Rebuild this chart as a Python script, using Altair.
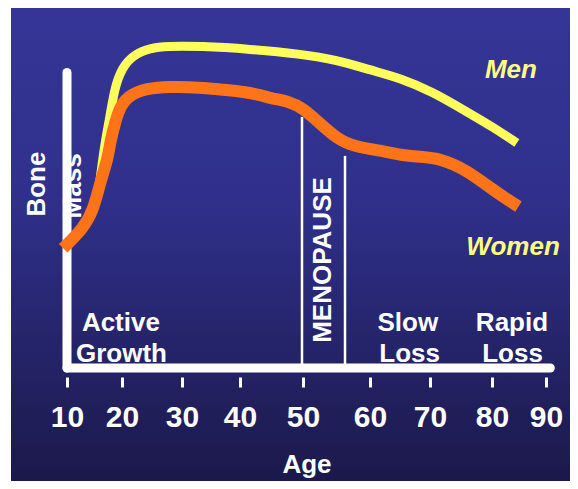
import altair as alt
import pandas as pd

FONT = "Liberation Sans"

# Age axis ticks (the slide spaces them unevenly)
tick_ages = [10, 20, 30, 40, 50, 60, 70, 80, 90]

# Bone mass curves (arbitrary units)
men_age = [16.0, 16.9, 17.8, 18.7, 20.0, 21.8, 24.7, 27.5, 33.1, 41.6, 49.5,
           55.1, 60.0, 65.0, 70.5, 76.0, 80.2, 84.6]
men_mass = [62.7, 75.0, 83.7, 93.7, 100.0, 104.3, 106.7, 107.3, 107.3, 106.3,
            104.7, 102.7, 99.3, 96.7, 92.0, 85.3, 80.3, 75.0]

women_age = [9.3, 13.0, 14.8, 16.0, 17.5, 17.8, 18.85, 19.8, 21.3, 24.1, 27.8,
             33.1, 41.6, 44.8, 47.9, 50.0, 52.5, 55.0, 57.5, 62.8, 65.0, 68.3,
             71.6, 75.9, 80.2, 84.9]
women_mass = [39.9, 46.6, 52.7, 61.6, 70.4, 74.9, 82.7, 87.7, 91.0, 93.2, 93.8,
              93.6, 92.0, 89.9, 88.8, 86.6, 81.6, 76.6, 73.8, 72.1, 71.0, 70.4,
              69.9, 66.0, 59.3, 53.8]

# Axis lines
axis_age = [10, 10]
axis_age2 = [90.8, 10]
axis_mass = [0, 0]
axis_mass2 = [0, 98.5]

# Menopause band borders
meno_age = [49.84, 56.27]
meno_top = [83.7, 70.7]
meno_bottom = [0, 0]

# Phase labels
phase_text = ["Active", "Growth", "Slow", "Loss", "Rapid", "Loss"]
phase_age = [19.8, 19.9, 66.3, 66.6, 83.7, 83.8]
phase_mass = [12.3, 2.0, 12.3, 2.0, 12.3, 2.0]

# Rotated labels
rot_text = ["MENOPAUSE", "Bone", "Mass"]
rot_age = [53.0, 4.55, 11.0]
rot_mass = [36.0, 61.3, 60.7]

# Series labels
series_text = ["Men", "Women"]
series_age = [83.5, 83.9]
series_mass = [96.7, 37.7]

VIEW_H = 473

xs = alt.Scale(domain=tick_ages, range=[56, 111, 171, 229, 292, 359, 419, 481, 535],
               zero=False, nice=False)
ys = alt.Scale(domain=[0, 100], range=[360, 60], zero=False, nice=False)

xaxis = alt.Axis(values=tick_ages, offset=-(VIEW_H - 369), domain=False, grid=False, zindex=2,
                 ticks=True, tickSize=10, tickWidth=3, tickColor="white",
                 labelColor="white", labelFont=FONT, labelFontSize=30,
                 labelFontWeight="bold", labelBaseline="alphabetic",
                 labelPadding=39, labelFlush=False, labelOverlap=False,
                 title="Age", titleColor="white", titleFont=FONT,
                 titleFontSize=26, titleFontWeight="bold",
                 titleBaseline="alphabetic", titleY=95)


def X():
    return alt.X("age:Q", scale=xs, axis=xaxis, title="Age")


def Y():
    return alt.Y("mass:Q", scale=ys, axis=None)


axis_df = pd.DataFrame({"age": axis_age, "age2": axis_age2, "mass": axis_mass, "mass2": axis_mass2})
meno_df = pd.DataFrame({"age": meno_age, "mass": meno_bottom, "mass2": meno_top})
men_df = pd.DataFrame({"age": men_age, "mass": men_mass})
women_df = pd.DataFrame({"age": women_age, "mass": women_mass})
phase_df = pd.DataFrame({"age": phase_age, "mass": phase_mass, "label": phase_text})
rot_df = pd.DataFrame({"age": rot_age, "mass": rot_mass, "label": rot_text})
series_df = pd.DataFrame({"age": series_age, "mass": series_mass, "label": series_text})

gradient = alt.LinearGradient(
    gradient="linear", x1=0, y1=0, x2=0, y2=1,
    stops=[
        alt.GradientStop(offset=0, color="#343596"),
        alt.GradientStop(offset=0.4, color="#30308c"),
        alt.GradientStop(offset=1, color="#1b194a"),
    ],
)

backdrop = alt.Chart(pd.DataFrame({"panel": [0]})).mark_rect(color=gradient).encode(
    x=alt.value(0), x2=alt.value("width"), y=alt.value(0), y2=alt.value("height"))

axis_lines = alt.Chart(axis_df).mark_rule(color="white", strokeWidth=9, strokeCap="round").encode(
    x=X(), x2="age2:Q", y=Y(), y2="mass2:Q")

meno_lines = alt.Chart(meno_df).mark_rule(color="white", strokeWidth=2.5).encode(
    x=X(), y=Y(), y2="mass2:Q")

men_line = alt.Chart(men_df).mark_line(color="#FFFF5C", strokeWidth=9, interpolate="basis",
                                       strokeCap="butt").encode(x=X(), y=Y())
women_line = alt.Chart(women_df).mark_line(color="#FF7418", strokeWidth=12, interpolate="basis",
                                           strokeCap="butt").encode(x=X(), y=Y())

phase_labels = alt.Chart(phase_df).mark_text(color="white", font=FONT, fontSize=26, fontWeight="bold",
                                             align="center", baseline="alphabetic").encode(
    x=X(), y=Y(), text="label:N")

rot_labels = alt.Chart(rot_df).mark_text(color="white", font=FONT, fontSize=26, fontWeight="bold",
                                         align="center", baseline="middle", angle=270).encode(
    x=X(), y=Y(), text="label:N")

series_labels = alt.Chart(series_df).mark_text(color="#FFFF80", font=FONT, fontSize=26, fontWeight="bold",
                                               fontStyle="italic", align="center",
                                               baseline="alphabetic").encode(
    x=X(), y=Y(), text="label:N")

chart = alt.layer(
    backdrop, axis_lines, meno_lines, men_line, women_line, phase_labels, rot_labels, series_labels
).properties(
    width=559, height=VIEW_H,
    autosize=alt.AutoSizeParams(type="none"),
    padding={"left": 3, "top": 0, "right": 0, "bottom": 0},
    background="white",
).configure_view(stroke=None)

chart.save("out.html", embed_options={"renderer": "svg", "actions": False})
